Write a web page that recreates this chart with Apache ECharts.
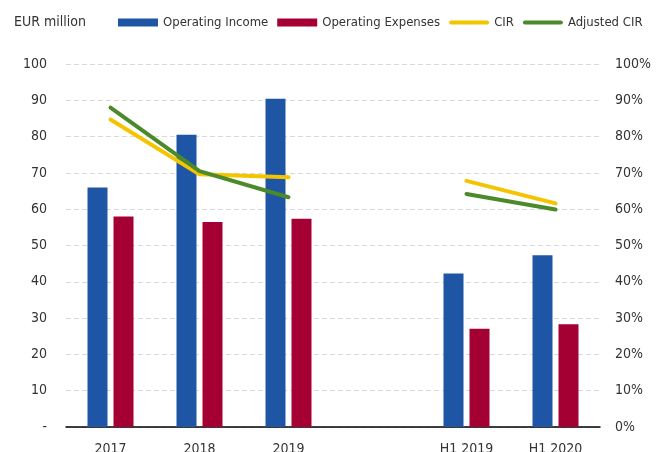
<!DOCTYPE html>
<html>
<head>
<meta charset="utf-8">
<script src="https://cdn.jsdelivr.net/npm/echarts@6/dist/echarts.min.js"></script>
<style>
  html, body { margin: 0; padding: 0; background: #fff; }
  #chart { width: 659px; height: 452px; }
</style>
</head>
<body>
<div id="chart"></div>
<script>
// categories (blank slot separates full years from half years)
var categories = ["2017", "2018", "2019", "", "H1 2019", "H1 2020"];
var operatingIncome = [66, 80.5, 90.4, null, 42.3, 47.3];
var operatingExpenses = [58, 56.5, 57.4, null, 27.1, 28.3];
var cir = [84.7, 69.6, 68.8, null, 67.8, 61.6];
var adjustedCir = [88.0, 70.5, 63.3, null, 64.2, 59.9];

var leftTicks = { min: 0, max: 100, interval: 10 };
var rightTicks = { min: 0, max: 100, interval: 10 };

var FONT = "'DejaVu Sans Condensed', Roboto, sans-serif";
// thin bar with round ends for the line items of the legend
var LINE_ICON = "path://M0.5,0 L9.5,0 A0.5,0.5 0 0 1 9.5,1 L0.5,1 A0.5,0.5 0 0 1 0.5,0 Z";
var myChart = echarts.init(document.getElementById("chart"));

myChart.setOption({
  animation: false,
  textStyle: { fontFamily: FONT },
  title: {
    text: "EUR million",
    left: 9,
    top: 10,
    textStyle: { fontFamily: FONT, fontSize: 14, fontWeight: "normal", color: "#333" }
  },
  legend: {
    left: 113,
    top: 11,
    width: 560,
    itemWidth: 40,
    itemHeight: 8,
    itemGap: 9,
    symbolKeepAspect: true,
    textStyle: { fontFamily: FONT, fontSize: 13, color: "#333" },
    data: [
      { name: "Operating Income", icon: "rect" },
      { name: "Operating Expenses", icon: "rect" },
      { name: "CIR", icon: LINE_ICON },
      { name: "Adjusted CIR", icon: LINE_ICON }
    ]
  },
  grid: { left: 66, right: 59, top: 64, bottom: 25, outerBoundsMode: "none" },
  xAxis: {
    type: "category",
    data: categories,
    axisTick: { show: false },
    axisLine: { lineStyle: { color: "#000", width: 1.5 } },
    axisLabel: { color: "#333", fontSize: 14, margin: 15 }
  },
  yAxis: [
    {
      type: "value",
      min: leftTicks.min,
      max: leftTicks.max,
      interval: leftTicks.interval,
      axisLine: { show: false },
      axisTick: { show: false },
      axisLabel: {
        color: "#333",
        fontSize: 14,
        margin: 19,
        formatter: function (v) { return v === 0 ? "-" : v; }
      },
      splitLine: { lineStyle: { color: "#d9d9d9", type: [5, 3], width: 1 } }
    },
    {
      type: "value",
      min: rightTicks.min,
      max: rightTicks.max,
      interval: rightTicks.interval,
      axisLine: { show: false },
      axisTick: { show: false },
      axisLabel: { color: "#333", fontSize: 14, margin: 15, formatter: "{value}%" },
      splitLine: { show: false }
    }
  ],
  series: [
    {
      name: "Operating Income",
      type: "bar",
      data: operatingIncome,
      barWidth: 20,
      barGap: "30%",
      itemStyle: { color: "#1f55a5" }
    },
    {
      name: "Operating Expenses",
      type: "bar",
      data: operatingExpenses,
      barWidth: 20,
      barGap: "30%",
      itemStyle: { color: "#a50034" }
    },
    {
      name: "CIR",
      type: "line",
      yAxisIndex: 1,
      data: cir,
      symbol: "none",
      connectNulls: false,
      itemStyle: { color: "#f5c400" },
      lineStyle: { color: "#f5c400", width: 4, cap: "round" }
    },
    {
      name: "Adjusted CIR",
      type: "line",
      yAxisIndex: 1,
      data: adjustedCir,
      symbol: "none",
      connectNulls: false,
      itemStyle: { color: "#4b8a2a" },
      lineStyle: { color: "#4b8a2a", width: 4, cap: "round" }
    }
  ]
});
</script>
</body>
</html>
